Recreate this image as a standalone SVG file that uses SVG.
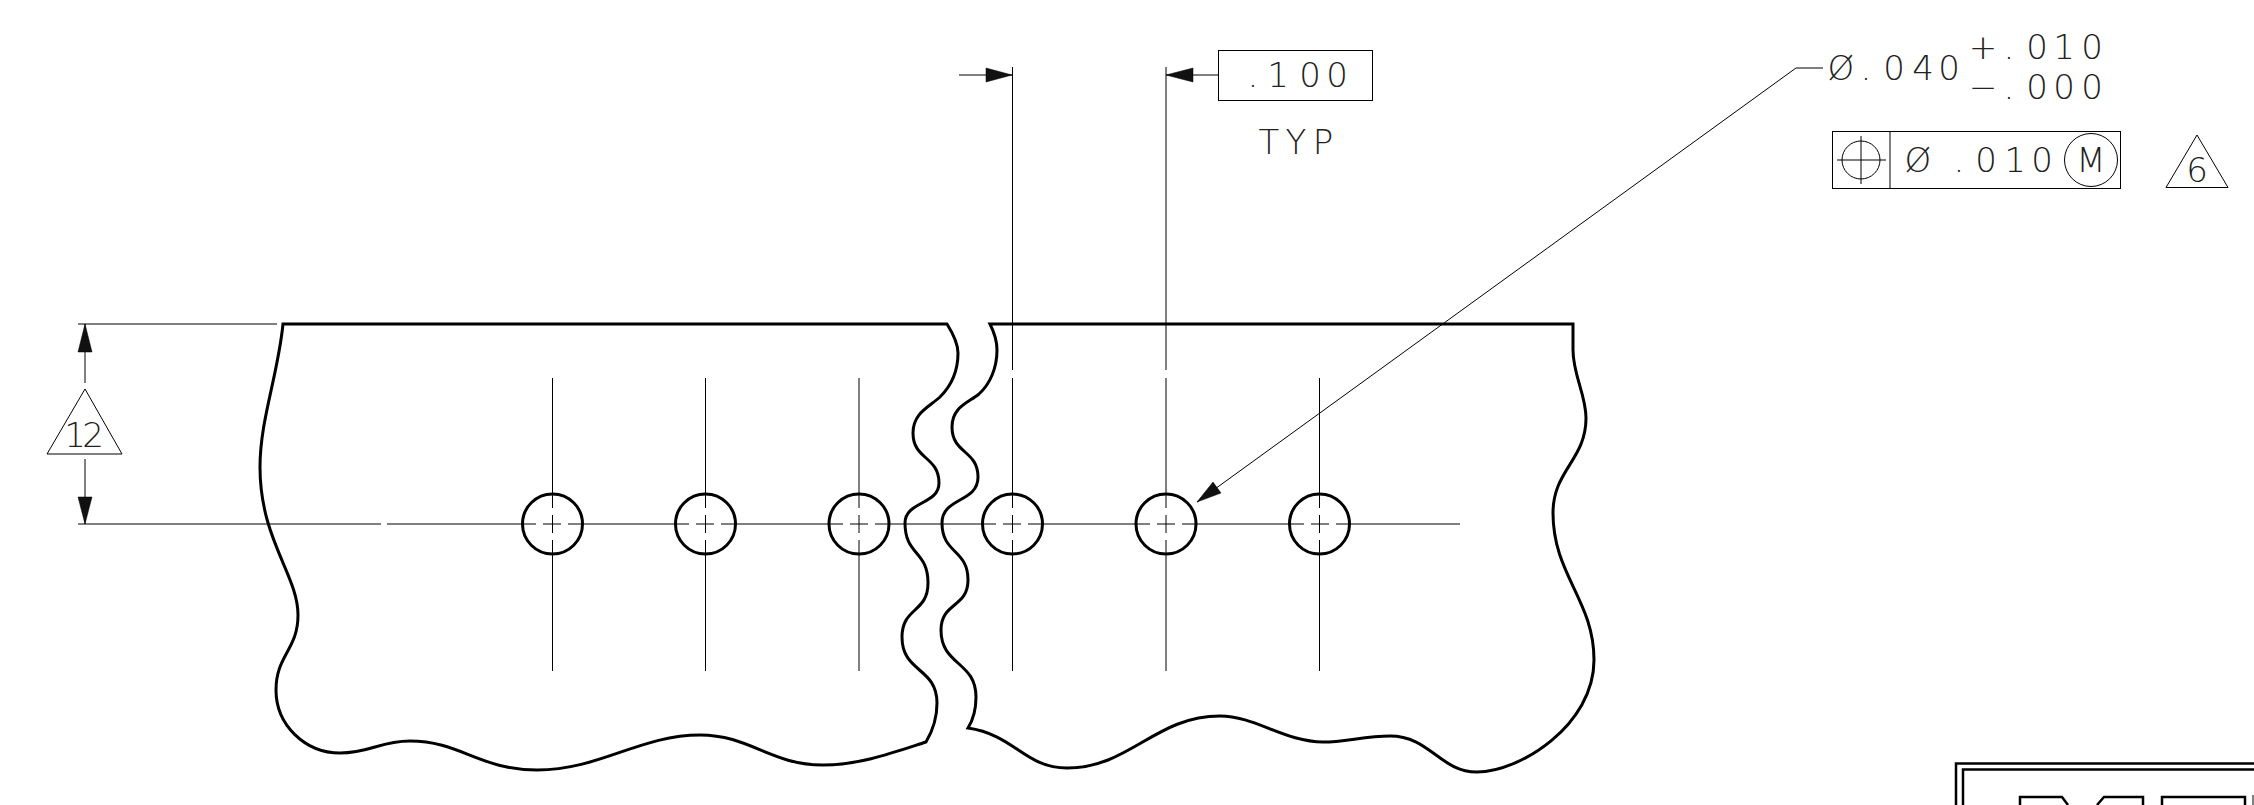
<svg xmlns="http://www.w3.org/2000/svg" width="2254" height="805" viewBox="0 0 2254 805">
<style>
.o{fill:none;stroke:#000;stroke-width:3;stroke-linejoin:miter}
.t{fill:none;stroke:#000;stroke-width:1}
.h{fill:#111;stroke:#000;stroke-width:.5}
text{font-family:"DejaVu Sans",Roboto,sans-serif;font-size:34px;fill:#222;font-weight:200;text-anchor:middle}
</style>
<rect width="2254" height="805" fill="#fff"/>
<g id="part">
<path id="part-left" class="o" d="M283 324H947C952 332 958 342 958 353C958 372 951 386 940 397C929 407 913 413 913 433C913 460 939 456 939 483C939 505 905 501 905 523C905 556 928 550 928 583C928 613 902 607 902 637C902 673 937 667 937 703C937 718 932 732 926 742C895 752 860 765 823 765C770 765 750 735 700 735C640 735 600 770 537 770C480 770 460 741 410 741C380 741 370 753 340 753C305 753 276 725 276 690C276 655 298 650 298 615C298 575 260 540 260 467C260 420 278 375 283 324Z"/>
<path id="part-right" class="o" d="M990 324C994 332 997 340 997 350C997 368 990 384 979 394C968 403 952 407 952 427C952 454 978 450 978 477C978 503 942 497 942 523C942 554 968 549 968 580C968 608 941 602 941 630C941 666 976 661 976 697C976 710 973 720 968 728C1015 735 1025 768 1067 768C1130 768 1155 716 1220 716C1255 716 1285 742 1323 742C1345 742 1365 736 1390 736C1430 736 1440 772 1477 772C1520 772 1594 725 1594 660C1594 600 1553 575 1553 513C1553 470 1586 460 1586 418C1586 395 1573 375 1573 350L1573 324Z"/>
<circle class="o" cx="552.5" cy="524" r="30"/>
<circle class="o" cx="705.5" cy="524" r="30"/>
<circle class="o" cx="859" cy="524" r="30"/>
<circle class="o" cx="1012.5" cy="524" r="30"/>
<circle class="o" cx="1166" cy="524" r="30"/>
<circle class="o" cx="1319.5" cy="524" r="30"/>
</g>
<g id="connectors">
<path class="t" d="M552.5 378V508M552.5 515V533M552.5 540V671M705.5 378V508M705.5 515V533M705.5 540V671M859 378V508M859 515V533M859 540V671M1012.5 378V508M1012.5 515V533M1012.5 540V671M1166 378V508M1166 515V533M1166 540V671M1319.5 378V508M1319.5 515V533M1319.5 540V671"/>
<path class="t" d="M1012.5 67V370M1166 67V370"/>
<path class="t" d="M78 524H381M387 524H536M543 524H561M568 524H689M696 524H714M721 524H843M850 524H868M875 524H996M1003 524H1021M1028 524H1150M1157 524H1175M1182 524H1304M1311 524H1329M1336 524H1460"/>
<path class="t" d="M78 324H277"/>
<path class="t" d="M85 324V383M85 459V524"/>
<path class="t" d="M959 75H1012M1166 75H1218"/>
<path class="t" d="M1823 68H1796L1197 502"/>
<polygon class="h" points="1012,75 986,68 986,82"/>
<polygon class="h" points="1166,75 1193,68 1193,82"/>
<polygon class="h" points="85,324 78,352 92,352"/>
<polygon class="h" points="85,524 78,497 92,497"/>
<polygon class="h" points="1197,502 1213,482 1221,493"/>
</g>
<g id="dim-100"><rect class="t" x="1218.5" y="50.5" width="154" height="50"/><text y="87" x="1253 1278 1310 1337">.100</text></g>
<g id="typ"><text y="154" x="1269 1296 1323">TYP</text></g>
<g id="tol"><text y="80" x="1841 1866 1894 1923 1949">Ø.040</text><text y="59" x="1983 2009 2037 2064 2092">+.010</text><text y="99" x="1983 2009 2037 2064 2092">−.000</text></g>
<g id="fcf"><rect class="t" x="1832.5" y="131.5" width="288" height="57"/><path class="t" d="M1890 131V188M1837 160H1886M1861 136V184"/><circle class="t" cx="1861" cy="160" r="19"/><text y="172" x="1918 1959 1986 2015 2042">Ø.010</text><circle class="t" cx="2091" cy="160" r="26.5"/><text x="2091" y="172">M</text></g>
<g id="flag6"><polygon class="t" points="2197,135 2166,187.5 2228,187.5"/><text x="2197" y="182">6</text></g>
<g id="flag12"><polygon class="t" points="85,389 47,454 122,454"/><text y="447" x="75 93">12</text></g>
<g id="logo"><rect class="t" style="stroke-width:2.5" x="1956" y="763.5" width="320" height="80"/><rect class="t" style="stroke-width:2.5" x="1963" y="769.5" width="320" height="80"/>
<path class="t" style="stroke-width:2.5" d="M2020 805V797H2062L2068 805M2097 805L2104 797H2143V805M2162 805V797H2245V805"/><path class="t" d="M2253 795V805"/></g>
</svg>
